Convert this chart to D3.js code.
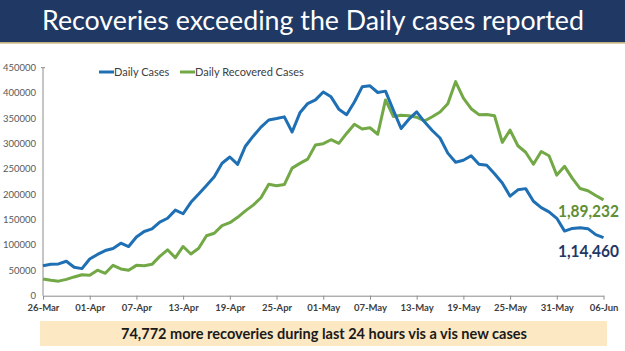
<!DOCTYPE html>
<html>
<head>
<meta charset="utf-8">
<script src="https://cdn.jsdelivr.net/npm/d3@7"></script>
<style>
  body { margin: 0; background: #fff; }
  svg { display: block; font-family: Lato, "Open Sans", sans-serif; }
</style>
</head>
<body>
<div id="chart"></div>
<script>
// Daily figures, 26-Mar to 06-Jun
var startDate = "2021-03-26";
var dailyCases = [
  59118, 62258, 62714, 68020, 56211, 53480, 72330, 81466, 89129, 93249,
  103558, 96982, 115736, 126789, 131968, 145384, 152879, 168912, 161736, 184372,
  200739, 217353, 234692, 261500, 273810, 259170, 295041, 314835, 332730, 346786,
  349691, 352991, 323144, 360960, 379257, 386452, 401993, 392488, 368147, 357229,
  382315, 412262, 414188, 401078, 403738, 366161, 329942, 348421, 362727, 343144,
  326098, 311170, 281386, 263533, 267334, 276110, 259551, 257299, 240842, 222315,
  196427, 208921, 211298, 186364, 173790, 165553, 152734, 127510, 132788, 134154,
  132364, 120529, 114460
];
var dailyRecovered = [
  32987, 30386, 28739, 32231, 37028, 41280, 40382, 50356, 44202, 60048,
  52847, 50143, 59856, 59258, 61899, 77567, 90584, 75086, 97168, 82339,
  93528, 118302, 123354, 138423, 144178, 154761, 167457, 178841, 193279, 219838,
  217113, 219272, 251827, 261162, 269507, 297540, 299988, 307865, 300732, 320289,
  338439, 329113, 331507, 318609, 386444, 353818, 356082, 355338, 352181, 344776,
  353299, 362437, 378741, 422436, 389851, 369077, 357295, 357630, 355102, 302544,
  326850, 295955, 283135, 259459, 284601, 276309, 238022, 255287, 231456, 211499,
  207071, 197894, 189232
];
var yTicks = [0, 50000, 100000, 150000, 200000, 250000, 300000, 350000, 400000, 450000];
var seriesNames = ["Daily Cases", "Daily Recovered Cases"];
var seriesColors = ["#1f6fb4", "#72a846"];
var lastLabels = ["1,14,460", "1,89,232"];
var title = "Recoveries exceeding the Daily cases reported";
var footnote = "74,772 more recoveries during last 24 hours vis a vis new cases";

var W = 625, H = 351;
var parse = d3.timeParse("%Y-%m-%d");
var t0 = parse(startDate);
var dates = dailyCases.map(function(d, i) { return d3.timeDay.offset(t0, i); });

var svg = d3.select("#chart").append("svg")
  .attr("width", W).attr("height", H);

// title bar
svg.append("rect").attr("x", 0).attr("y", 0).attr("width", W).attr("height", 42)
  .attr("fill", "#1f3864");
svg.append("rect").attr("x", 0).attr("y", 42).attr("width", W).attr("height", 1.6)
  .attr("fill", "#c4b07c");
svg.append("text")
  .attr("x", 42).attr("y", 29.5)
  .attr("textLength", 542).attr("lengthAdjust", "spacingAndGlyphs")
  .style("font-size", "26px").style("fill", "#fff")
  .text(title);

// scales
var x = d3.scaleTime()
  .domain([dates[0], dates[dates.length - 1]])
  .range([43, 603.5]);
var y = d3.scaleLinear().domain([0, 450000]).range([295.7, 67.7]);

// y axis labels
svg.append("g").selectAll("text").data(yTicks).enter().append("text")
  .attr("x", 36).attr("y", function(d) { return y(d) + 3.3; })
  .attr("text-anchor", "end")
  .style("font-size", "9.5px").style("fill", "#595959")
  .text(function(d) { return d; });

svg.append("line")
  .attr("x1", 43).attr("x2", 43).attr("y1", y(450000)).attr("y2", y(0))
  .attr("stroke", "#8c8c8c").attr("stroke-width", 1);
svg.append("line")
  .attr("x1", 41).attr("x2", 45).attr("y1", y(450000)).attr("y2", y(450000))
  .attr("stroke", "#8c8c8c").attr("stroke-width", 1);

// x axis
var tickDates = d3.range(0, dates.length, 6).map(function(i) { return dates[i]; });
var xAxis = svg.append("g")
  .attr("transform", "translate(0," + y(0) + ")")
  .call(d3.axisBottom(x).tickValues(tickDates).tickSize(4).tickSizeOuter(0)
    .tickFormat(d3.timeFormat("%d-%b")));
xAxis.select(".domain").attr("stroke", "#8c8c8c");
xAxis.selectAll(".tick line").attr("stroke", "#8c8c8c");
xAxis.selectAll(".tick text")
  .attr("y", 9)
  .style("font-family", "Lato, sans-serif")
  .style("font-size", "9.5px").style("font-weight", "bold").style("fill", "#404040");

// lines
var series = [dailyCases, dailyRecovered];
var line = d3.line()
  .x(function(d, i) { return x(dates[i]); })
  .y(function(d) { return y(d); });

svg.selectAll(".series").data([1, 0]).enter().append("path")
  .attr("class", "series")
  .attr("d", function(k) { return line(series[k]); })
  .attr("fill", "none")
  .attr("stroke", function(k) { return seriesColors[k]; })
  .attr("stroke-width", 3)
  .attr("stroke-linejoin", "round");

// legend
var legendX = [99, 180];
var legend = svg.selectAll(".legend").data(seriesNames).enter().append("g")
  .attr("transform", function(d, i) { return "translate(" + legendX[i] + ",72)"; });
legend.append("line").attr("x1", 0).attr("x2", 15).attr("y1", 0).attr("y2", 0)
  .attr("stroke", function(d, i) { return seriesColors[i]; }).attr("stroke-width", 3);
legend.append("text").attr("x", 15).attr("y", 3.8)
  .style("font-size", "11px").style("fill", "#404040")
  .text(function(d) { return d; });

// end labels
svg.append("text").attr("x", 558).attr("y", 217)
  .attr("textLength", 61).attr("lengthAdjust", "spacingAndGlyphs")
  .style("font-size", "17px").style("font-weight", "bold").style("fill", "#5e8f34")
  .text(lastLabels[1]);
svg.append("text").attr("x", 558).attr("y", 257)
  .attr("textLength", 61).attr("lengthAdjust", "spacingAndGlyphs")
  .style("font-size", "17px").style("font-weight", "bold").style("fill", "#1f3864")
  .text(lastLabels[0]);

// footnote box
svg.append("rect").attr("x", 40).attr("y", 321).attr("width", 567).attr("height", 25)
  .attr("fill", "#fce8c2");
svg.append("text").attr("x", 121).attr("y", 339)
  .attr("textLength", 406).attr("lengthAdjust", "spacingAndGlyphs")
  .style("font-size", "15px").style("font-weight", "bold").style("fill", "#1a1a1a")
  .text(footnote);
</script>
</body>
</html>
